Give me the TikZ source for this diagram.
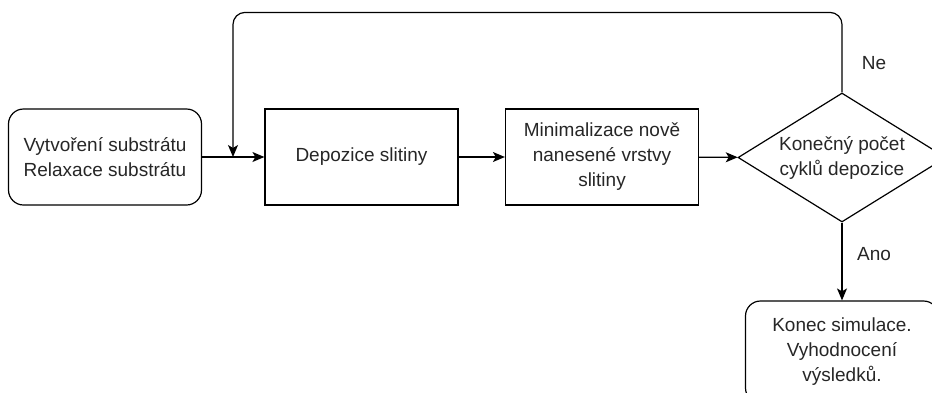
\documentclass[tikz,border=0pt]{standalone}
\usepackage{fontspec}
\setmainfont{Liberation Sans}
\usetikzlibrary{shapes.geometric,arrows.meta}
\tikzset{
  box/.style={draw=black, line width=1.2pt, minimum width=193pt, minimum height=96pt, inner sep=0pt, align=center, font=\fontsize{19}{25}\selectfont, text=black!85},
  rbox/.style={box, rounded corners=15pt},
  dec/.style={draw=black, line width=1.2pt, shape=diamond, aspect=1.61, minimum width=208pt, minimum height=129pt, inner sep=0pt, align=center, font=\fontsize{19}{25}\selectfont, text=black!85},
  lbl/.style={font=\fontsize{19}{25}\selectfont, text=black!85, inner sep=0pt},
  arr/.style={draw=black, line width=1.2pt, -{Stealth[length=12pt,width=10pt,inset=3pt]}},
}
\begin{document}
\begin{tikzpicture}[x=1pt,y=-1pt]
\useasboundingbox (0,0) rectangle (932,392);
\clip (0,0) rectangle (932,392);
\node[rbox] (n1) at (105,157) {Vytvoření substrátu\\Relaxace substrátu};
\node[box] (n2) at (361.5,157) {Depozice slitiny};
\node[box] (n3) at (602,157) {Minimalizace nově\\nanesené vrstvy\\slitiny};
\node[dec] (d) at (842,157.5) {Konečný počet\\cyklů depozice};
\node[rbox, minimum height=102pt] (n5) at (842,352) {Konec simulace.\\Vyhodnocení\\výsledků.};
\coordinate (j) at (233,157);
\draw[arr] (n1) -- (n2);
\draw[arr] (n2) -- (n3);
\draw[arr] (n3) -- (d);
\draw[arr] (d) -- (n5);
\draw[arr, rounded corners=12pt] (d.north) -- ++(0,-80) -| (j);
\node[lbl] (ne) at (874,63) {Ne};
\node[lbl] (ano) at (874,254) {Ano};
\end{tikzpicture}
\end{document}
